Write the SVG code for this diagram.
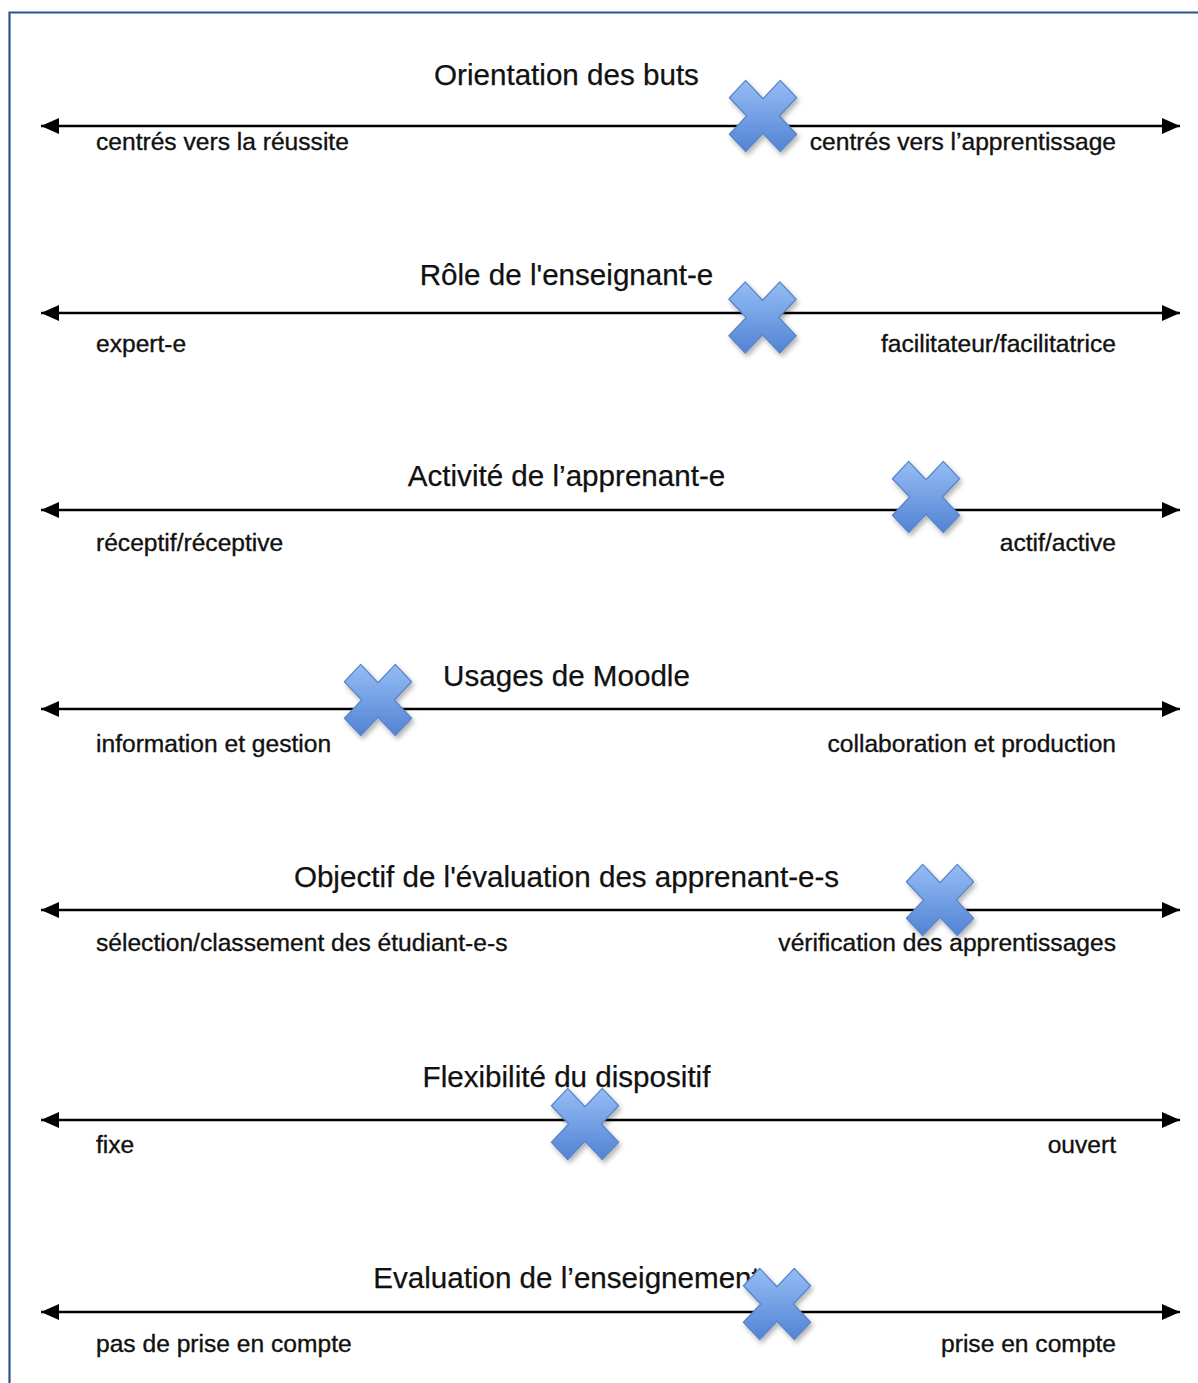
<svg xmlns="http://www.w3.org/2000/svg" width="1198" height="1383" viewBox="0 0 1198 1383">
  <defs>
    <linearGradient id="xg" x1="0" y1="0" x2="0" y2="1">
      <stop offset="0" stop-color="#95bdf5"/>
      <stop offset="1" stop-color="#5283d4"/>
    </linearGradient>
    <filter id="sh" x="-30%" y="-30%" width="160%" height="160%">
      <feDropShadow dx="2" dy="3" stdDeviation="2.4" flood-color="#000" flood-opacity="0.3"/>
    </filter>
    <marker id="ah" viewBox="0 0 18 16" refX="18" refY="8" markerWidth="18" markerHeight="16" markerUnits="userSpaceOnUse" orient="auto-start-reverse">
      <path d="M0,0 L18,8 L0,16 Z" fill="#000"/>
    </marker>
    <polygon id="cross" points="17.3,-33.6 33.6,-17.3 16.3,0 33.6,17.3 17.3,33.6 0,16.3 -17.3,33.6 -33.6,17.3 -16.3,0 -33.6,-17.3 -17.3,-33.6 0,-16.3"/>
  </defs>
  <style>
    .t { font-family: "Liberation Sans", Arial, sans-serif; font-size: 29.6px; fill: #111; stroke: #111; stroke-width: 0.25; text-anchor: middle; }
    .l { font-family: "Liberation Sans", Arial, sans-serif; font-size: 24.6px; fill: #111; stroke: #111; stroke-width: 0.35; }
    .r { text-anchor: end; }
    .ax { stroke: #000; stroke-width: 2.5; fill: none; marker-start: url(#ah); marker-end: url(#ah); }
    .x { fill: url(#xg); stroke: #5a85c8; stroke-width: 1.3; stroke-linejoin: round; filter: url(#sh); }
  </style>
  <rect width="1198" height="1383" fill="#fff"/>
  <path d="M9.5,1383 V12.5 H1198" fill="none" stroke="#2b5391" stroke-width="2.2"/>

  <g id="connectors">
    <line class="ax" x1="41" y1="126" x2="1180" y2="126"/>
    <line class="ax" x1="41" y1="313" x2="1180" y2="313"/>
    <line class="ax" x1="41" y1="510" x2="1180" y2="510"/>
    <line class="ax" x1="41" y1="709" x2="1180" y2="709"/>
    <line class="ax" x1="41" y1="910" x2="1180" y2="910"/>
    <line class="ax" x1="41" y1="1120" x2="1180" y2="1120"/>
    <line class="ax" x1="41" y1="1312" x2="1180" y2="1312"/>
  </g>

  <g id="row1">
    <text class="t" x="566.5" y="85">Orientation des buts</text>
    <text class="l" x="96" y="150">centrés vers la réussite</text>
    <text class="l r" x="1116" y="150">centrés vers l’apprentissage</text>
    <use href="#cross" class="x" transform="translate(763,116) scale(1,1.06)"/>
  </g>
  <g id="row2">
    <text class="t" x="566.5" y="285">Rôle de l'enseignant-e</text>
    <text class="l" x="96" y="352">expert-e</text>
    <text class="l r" x="1116" y="352">facilitateur/facilitatrice</text>
    <use href="#cross" class="x" transform="translate(762.5,317.5) scale(1,1.06)"/>
  </g>
  <g id="row3">
    <text class="t" x="566.5" y="486">Activité de l’apprenant-e</text>
    <text class="l" x="96" y="551">réceptif/réceptive</text>
    <text class="l r" x="1116" y="551">actif/active</text>
    <use href="#cross" class="x" transform="translate(926,497) scale(1,1.06)"/>
  </g>
  <g id="row4">
    <text class="t" x="566.5" y="686">Usages de Moodle</text>
    <text class="l" x="96" y="752">information et gestion</text>
    <text class="l r" x="1116" y="752">collaboration et production</text>
    <use href="#cross" class="x" transform="translate(378,700) scale(1,1.06)"/>
  </g>
  <g id="row5">
    <text class="t" x="566.5" y="887">Objectif de l'évaluation des apprenant-e-s</text>
    <text class="l" x="96" y="951">sélection/classement des étudiant-e-s</text>
    <text class="l r" x="1116" y="951">vérification des apprentissages</text>
    <use href="#cross" class="x" transform="translate(940,900) scale(1,1.06)"/>
  </g>
  <g id="row6">
    <text class="t" x="566.5" y="1087">Flexibilité du dispositif</text>
    <text class="l" x="96" y="1153">fixe</text>
    <text class="l r" x="1116" y="1153">ouvert</text>
    <use href="#cross" class="x" transform="translate(585,1124) scale(1,1.06)"/>
  </g>
  <g id="row7">
    <text class="t" x="566.5" y="1288">Evaluation de l’enseignement</text>
    <text class="l" x="96" y="1352">pas de prise en compte</text>
    <text class="l r" x="1116" y="1352">prise en compte</text>
    <use href="#cross" class="x" transform="translate(777,1304) scale(1,1.06)"/>
  </g>
</svg>
